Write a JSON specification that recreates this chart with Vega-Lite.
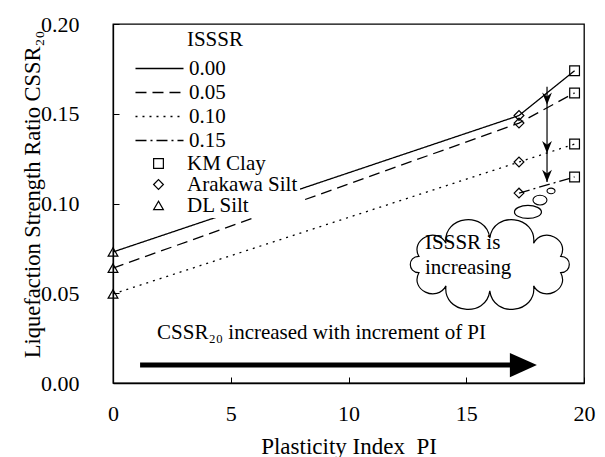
{
  "$schema": "https://vega.github.io/schema/vega-lite/v6.json",
  "width": 471,
  "height": 359,
  "autosize": {"type": "none"},
  "padding": {"left": 113, "top": 24, "right": 21, "bottom": 74},
  "background": "white",
  "config": {
    "font": "'Liberation Serif', 'Times New Roman', Times, serif",
    "view": {"stroke": "black", "strokeWidth": 1.3},
    "axis": {
      "grid": false,
      "domainColor": "black",
      "domainWidth": 1.3,
      "tickColor": "black",
      "tickWidth": 1,
      "tickSize": -6,
      "labelColor": "black",
      "titleColor": "black",
      "labelFont": "'Liberation Serif', 'Times New Roman', Times, serif",
      "titleFont": "'Liberation Serif', 'Times New Roman', Times, serif",
      "titleFontWeight": "normal",
      "labelFontSize": 22,
      "titleFontSize": 23
    },
    "legend": {
      "labelFont": "'Liberation Serif', 'Times New Roman', Times, serif",
      "labelFontSize": 21,
      "labelColor": "black",
      "fillColor": "white",
      "padding": 8,
      "rowPadding": 2
    }
  },
  "datasets": {
    "series": [
      {"PI": 0, "CSSR": 0.073, "ISSSR": "0.00", "soil": "DL Silt"},
      {"PI": 17.24, "CSSR": 0.149, "ISSSR": "0.00", "soil": "Arakawa Silt"},
      {"PI": 19.6, "CSSR": 0.174, "ISSSR": "0.00", "soil": "KM Clay"},
      {"PI": 0, "CSSR": 0.064, "ISSSR": "0.05", "soil": "DL Silt"},
      {"PI": 17.24, "CSSR": 0.1448, "ISSSR": "0.05", "soil": "Arakawa Silt"},
      {"PI": 19.6, "CSSR": 0.1616, "ISSSR": "0.05", "soil": "KM Clay"},
      {"PI": 0, "CSSR": 0.0496, "ISSSR": "0.10", "soil": "DL Silt"},
      {"PI": 17.24, "CSSR": 0.1231, "ISSSR": "0.10", "soil": "Arakawa Silt"},
      {"PI": 19.6, "CSSR": 0.1331, "ISSSR": "0.10", "soil": "KM Clay"},
      {"PI": 17.24, "CSSR": 0.1058, "ISSSR": "0.15", "soil": "Arakawa Silt"},
      {"PI": 19.6, "CSSR": 0.1148, "ISSSR": "0.15", "soil": "KM Clay"}
    ],
    "notes": [
      {"PI": 1.87, "CSSR": 0.0279, "label": "CSSR₂₀ increased with increment of PI"},
      {"PI": 13.25, "CSSR": 0.078, "label": "ISSSR is"},
      {"PI": 13.25, "CSSR": 0.0641, "label": "increasing"},
      {"PI": 3.14, "CSSR": 0.1911, "label": "ISSSR"}
    ]
  },
  "layer": [
    {
      "data": {"name": "series"},
      "mark": {"type": "line", "color": "black", "strokeWidth": 1.3},
      "encoding": {
        "x": {
          "field": "PI", "type": "quantitative",
          "scale": {"domain": [0, 20], "nice": false, "zero": false},
          "axis": {"values": [0, 5, 10, 15, 20], "title": "Plasticity Index\u00a0 PI", "labelPadding": 26, "titlePadding": 11, "labelFlush": false}
        },
        "y": {
          "field": "CSSR", "type": "quantitative",
          "scale": {"domain": [0, 0.2], "nice": false},
          "axis": {"values": [0, 0.05, 0.1, 0.15, 0.2], "format": ".2f", "title": "Liquefaction Strength Ratio CSSR₂₀", "titleFontSize": 22.5, "labelPadding": 40, "titlePadding": -4, "titleY": 170, "labelFlush": false}
        },
        "strokeDash": {
          "field": "ISSSR", "type": "nominal",
          "scale": {"domain": ["0.00", "0.05", "0.10", "0.15"], "range": [[1, 0], [11, 6], [2, 5], [11, 4, 2, 4]]},
          "legend": {"title": null, "orient": "none", "legendX": 28, "legendY": 26, "symbolType": "M-2.5,0 L2.5,0", "symbolSize": 369, "symbolStrokeWidth": 1.3, "symbolStrokeColor": "black", "labelOffset": 19}
        }
      }
    },
    {
      "data": {"name": "series"},
      "mark": {"type": "point", "filled": false, "color": "black", "strokeWidth": 1.2, "size": 95, "opacity": 1},
      "encoding": {
        "x": {"field": "PI", "type": "quantitative"},
        "y": {"field": "CSSR", "type": "quantitative"},
        "shape": {
          "field": "soil", "type": "nominal",
          "scale": {"domain": ["KM Clay", "Arakawa Silt", "DL Silt"], "range": ["square", "diamond", "triangle-up"]},
          "legend": {"title": null, "orient": "none", "legendX": 33, "legendY": 127, "padding": 2, "rowPadding": -1, "symbolSize": 95, "symbolStrokeColor": "black", "symbolFillColor": "transparent", "symbolStrokeWidth": 1.2, "labelOffset": 18}
        }
      }
    },
    {
      "data": {"values": [{"PI": 18.43, "CSSR": 0.165, "CSSR2": 0.112}]},
      "mark": {"type": "rule", "color": "black", "strokeWidth": 1.2},
      "encoding": {
        "x": {"field": "PI", "type": "quantitative"},
        "y": {"field": "CSSR", "type": "quantitative"},
        "y2": {"field": "CSSR2"}
      }
    },
    {
      "data": {"values": [{"PI": 18.43, "CSSR": 0.155}, {"PI": 18.43, "CSSR": 0.128}, {"PI": 18.43, "CSSR": 0.112}]},
      "mark": {"type": "point", "shape": "M0,0 L-0.7,-1.75 L0,-1.2 L0.7,-1.75 Z", "size": 196, "filled": true, "color": "black", "opacity": 1},
      "encoding": {
        "x": {"field": "PI", "type": "quantitative"},
        "y": {"field": "CSSR", "type": "quantitative"}
      }
    },
    {
      "data": {"values": [{"PI": 17.62, "CSSR": 0.0953}]},
      "mark": {"type": "point", "shape": "M-1,0 C-1,-0.265 -0.552,-0.48 0,-0.48 C0.552,-0.48 1,-0.265 1,0 C1,0.265 0.552,0.48 0,0.48 C-0.552,0.48 -1,0.265 -1,0 Z", "size": 729, "fill": "white", "fillOpacity": 1, "stroke": "black", "strokeWidth": 1.2, "opacity": 1},
      "encoding": {
        "x": {"field": "PI", "type": "quantitative"},
        "y": {"field": "CSSR", "type": "quantitative"}
      }
    },
    {
      "data": {"values": [{"PI": 18.13, "CSSR": 0.1019}, {"PI": 18.6, "CSSR": 0.107}]},
      "mark": {"type": "point", "shape": "M-1,0 C-1,-0.39 -0.552,-0.7 0,-0.7 C0.552,-0.7 1,-0.39 1,0 C1,0.39 0.552,0.7 0,0.7 C-0.552,0.7 -1,0.39 -1,0 Z", "fill": "white", "fillOpacity": 1, "stroke": "black", "strokeWidth": 1.1, "opacity": 1},
      "encoding": {
        "x": {"field": "PI", "type": "quantitative"},
        "y": {"field": "CSSR", "type": "quantitative"},
        "size": {"field": "CSSR", "type": "quantitative", "scale": {"domain": [0.1019, 0.107], "range": [196, 64]}, "legend": null}
      }
    },
    {
      "data": {"values": [{"PI": 16.0, "CSSR": 0.066}]},
      "mark": {"type": "point", "shape": "M0.818,0.094 C0.9246,0.2918 0.6121,0.4438 0.5055,0.246 C0.5462,0.5661 0.0407,0.6242 0,0.304 C-0.0407,0.6242 -0.5462,0.5661 -0.5055,0.246 C-0.6121,0.4438 -0.9246,0.2918 -0.818,0.094 C-0.9499,0.094 -0.9499,-0.094 -0.818,-0.094 C-0.9246,-0.2918 -0.6121,-0.4438 -0.5055,-0.246 C-0.5462,-0.5661 -0.0407,-0.6242 0,-0.304 C0.0407,-0.6242 0.5462,-0.5661 0.5055,-0.246 C0.6121,-0.4438 0.9246,-0.2918 0.818,-0.094 C0.9499,-0.094 0.9499,0.094 0.818,0.094 Z", "size": 30070, "fill": "white", "fillOpacity": 1, "stroke": "black", "strokeWidth": 1.2, "opacity": 1},
      "encoding": {
        "x": {"field": "PI", "type": "quantitative"},
        "y": {"field": "CSSR", "type": "quantitative"}
      }
    },
    {
      "data": {"name": "notes"},
      "mark": {"type": "text", "align": "left", "baseline": "middle", "font": "'Liberation Serif', 'Times New Roman', Times, serif", "fontSize": 21, "color": "black"},
      "encoding": {
        "x": {"field": "PI", "type": "quantitative"},
        "y": {"field": "CSSR", "type": "quantitative"},
        "text": {"field": "label"}
      }
    },
    {
      "data": {"values": [{"PI": 1.15, "PI2": 17.6, "CSSR": 0.01}]},
      "mark": {"type": "rule", "color": "black", "strokeWidth": 5},
      "encoding": {
        "x": {"field": "PI", "type": "quantitative"},
        "x2": {"field": "PI2"},
        "y": {"field": "CSSR", "type": "quantitative"}
      }
    },
    {
      "data": {"values": [{"PI": 18.0, "CSSR": 0.01}]},
      "mark": {"type": "point", "shape": "M0,0 L-2,-0.9 L-2,0.9 Z", "size": 729, "filled": true, "color": "black", "opacity": 1},
      "encoding": {
        "x": {"field": "PI", "type": "quantitative"},
        "y": {"field": "CSSR", "type": "quantitative"}
      }
    }
  ]
}
